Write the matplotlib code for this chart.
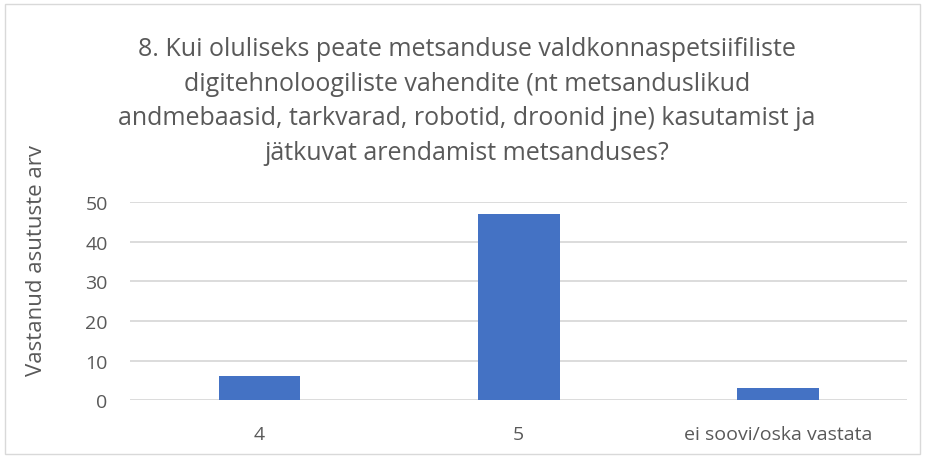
import matplotlib
matplotlib.use("Agg")
import matplotlib.pyplot as plt
from matplotlib.patches import Rectangle

categories = ["4", "5", "ei soovi/oska vastata"]
values = [6, 47, 3]
yticks = [0, 10, 20, 30, 40, 50]
title = ("8. Kui oluliseks peate metsanduse valdkonnaspetsiifiliste\n"
         "digitehnoloogiliste vahendite (nt metsanduslikud\n"
         "andmebaasid, tarkvarad, robotid, droonid jne) kasutamist ja\n"
         "jätkuvat arendamist metsanduses?")
ylabel = "Vastanud asutuste arv"

plt.rcParams['font.family'] = ['Open Sans', 'DejaVu Sans']
txt = '#595959'

fig = plt.figure(figsize=(9.25, 4.6), dpi=100)
fig.patches.append(Rectangle((0.005, 0.01), 0.99, 0.98, transform=fig.transFigure,
                             fill=False, edgecolor='#d9d9d9', linewidth=1.0))
ax = fig.add_axes([0.1405, 0.128, 0.8405, 0.4304])
x = range(len(categories))
ax.bar(x, values, width=0.315, color='#4472C4', zorder=3)
ax.set_xlim(-0.5, len(categories) - 0.5)
ax.set_ylim(0, 50)
ax.set_yticks(yticks)
ax.set_xticks(list(x))
ax.set_xticklabels(categories)
ax.grid(axis='y', color='#d9d9d9', linewidth=1.3, zorder=0)
for s in ax.spines.values():
    s.set_visible(False)
ax.tick_params(length=0, labelsize=14, colors=txt)
ax.tick_params(axis='x', pad=18)
ax.tick_params(axis='y', pad=16)

fig.text(0.505, 0.6395, title, ha='center', va='bottom', fontsize=18, color=txt,
         linespacing=1.5)
fig.text(0.040, 0.433, ylabel, rotation=90, ha='center', va='center', fontsize=16, color=txt)

fig.savefig("out.png", dpi=100)
